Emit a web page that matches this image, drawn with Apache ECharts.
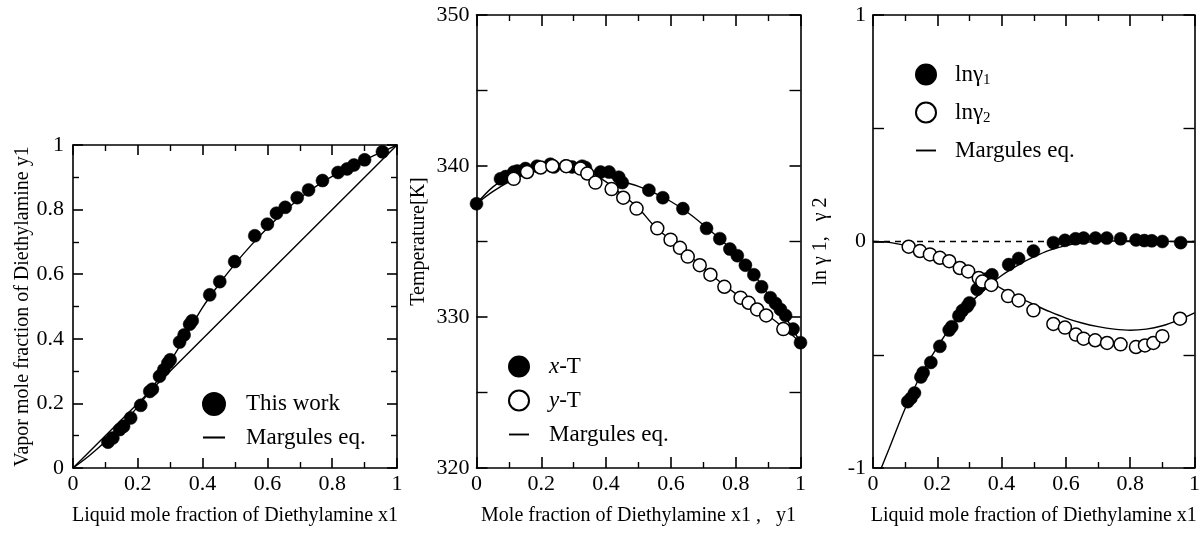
<!DOCTYPE html>
<html>
<head>
<meta charset="utf-8">
<script src="https://cdn.jsdelivr.net/npm/echarts@6/dist/echarts.min.js"></script>
<style>html,body{margin:0;padding:0;background:#fff}#c{width:1203px;height:535px}</style>
</head>
<body>
<div id="c"></div>
<script>
// ---------- Panel 1: x-y diagram ----------
const p1X = [0.108,0.123,0.144,0.156,0.178,0.209,0.237,0.245,0.267,0.280,0.293,0.300,0.329,0.343,0.360,0.368,0.422,0.453,0.499,0.561,0.600,0.628,0.655,0.692,0.727,0.770,0.818,0.846,0.867,0.900,0.955];
const p1Y = [0.080,0.093,0.119,0.129,0.155,0.194,0.237,0.244,0.284,0.304,0.325,0.335,0.390,0.412,0.445,0.456,0.536,0.577,0.639,0.719,0.755,0.789,0.807,0.837,0.861,0.890,0.915,0.926,0.938,0.954,0.979];
const curveX = [0,0.05,0.1,0.15,0.2,0.25,0.3,0.35,0.4,0.45,0.5,0.55,0.6,0.65,0.7,0.75,0.8,0.85,0.9,0.95,1];
const p1CurveY = [0,0.038,0.082,0.132,0.19,0.256,0.33,0.412,0.497,0.568,0.632,0.69,0.743,0.792,0.835,0.872,0.903,0.93,0.954,0.977,1];
const diagX = [0,1];
const diagY = [0,1];

// ---------- Panel 2: T-x-y diagram ----------
const p2LiqX = [0,0.074,0.09,0.115,0.126,0.151,0.187,0.228,0.239,0.275,0.295,0.326,0.336,0.383,0.409,0.439,0.45,0.532,0.575,0.637,0.71,0.751,0.782,0.805,0.830,0.856,0.88,0.907,0.923,0.938,0.954,0.977,1.0];
const p2LiqT = [337.5,339.15,339.3,339.6,339.67,339.83,339.99,340.12,339.94,340.0,339.94,339.99,339.9,339.6,339.6,339.26,338.9,338.4,337.9,337.18,335.87,335.19,334.5,334.06,333.43,332.8,332.0,331.28,330.9,330.5,330.1,329.2,328.3];
const p2VapY = [0.115,0.156,0.198,0.234,0.277,0.321,0.342,0.367,0.417,0.453,0.494,0.558,0.599,0.628,0.652,0.689,0.722,0.765,0.815,0.840,0.866,0.894,0.947];
const p2VapT = [339.15,339.6,339.9,340.0,339.99,339.83,339.5,338.9,338.47,337.9,337.18,335.87,335.12,334.58,334.0,333.43,332.8,332.0,331.28,330.94,330.5,330.1,329.2];
const bubbleT = [337.5,338.6,339.3,339.75,339.98,340.05,339.97,339.72,339.35,338.98,338.65,338.2,337.65,336.95,336.1,335.2,334.2,333.0,331.5,330.1,328.3];
const dewT = [337.5,338.3,338.95,339.45,339.8,339.98,339.95,339.6,338.95,338.1,337.2,336.0,335.1,334.2,333.25,332.35,331.55,330.85,330.1,329.25,328.3];

// ---------- Panel 3: activity coefficients ----------
const p3X1 = [0.108,0.118,0.129,0.149,0.156,0.180,0.208,0.237,0.245,0.267,0.278,0.293,0.300,0.324,0.334,0.355,0.370,0.422,0.453,0.499,0.561,0.597,0.630,0.655,0.692,0.727,0.770,0.818,0.844,0.867,0.900,0.957];
const p3G1 = [-0.707,-0.692,-0.669,-0.598,-0.579,-0.534,-0.463,-0.391,-0.376,-0.328,-0.305,-0.286,-0.271,-0.211,-0.195,-0.165,-0.147,-0.102,-0.075,-0.042,-0.005,0.005,0.012,0.015,0.015,0.015,0.012,0.007,0.004,0.003,0.0,-0.005];
const p3X2 = [0.111,0.146,0.177,0.208,0.237,0.270,0.296,0.329,0.340,0.368,0.420,0.453,0.499,0.561,0.597,0.631,0.655,0.691,0.728,0.770,0.818,0.846,0.872,0.900,0.955];
const p3G2 = [-0.023,-0.042,-0.057,-0.072,-0.087,-0.117,-0.132,-0.161,-0.177,-0.192,-0.241,-0.260,-0.304,-0.364,-0.380,-0.411,-0.429,-0.436,-0.448,-0.454,-0.466,-0.459,-0.448,-0.418,-0.341];
const g1Curve = [-1.09,-0.915,-0.737,-0.586,-0.466,-0.361,-0.275,-0.208,-0.15,-0.105,-0.068,-0.038,-0.018,-0.005,0.0,0.002,0.002,0.002,0.001,0.0,0.0];
const g2Curve = [0,-0.004,-0.018,-0.038,-0.063,-0.094,-0.128,-0.165,-0.208,-0.245,-0.278,-0.31,-0.338,-0.36,-0.376,-0.387,-0.392,-0.387,-0.372,-0.347,-0.315];
const zeroX = [0,1];
const zeroY = [0,0];

// ---------- Tick labels / names ----------
const fracTicks = {min:0, max:1, interval:0.2};
const tTicks = {min:320, max:350, interval:10};
const gTicks = {min:-1, max:1, interval:1};

const FONT = '"Liberation Serif", "Times New Roman", serif';
const zip = (a,b) => a.map((v,i) => [v, b[i]]);

function axis(type, grid, pos, t, opts) {
  const o = Object.assign({majorLen:10, minorLen:6, minorSplit:2, label:false, name:'', nameGap:0}, opts||{});
  return {
    type:'value', gridIndex:grid, position:pos,
    min:t.min, max:t.max, interval:t.interval,
    axisLine:{show:true, onZero:false, lineStyle:{color:'#000', width:1.6}},
    axisTick:{show:true, inside:true, length:o.majorLen, lineStyle:{color:'#000', width:1.6}},
    minorTick:{show:true, splitNumber:o.minorSplit, length:o.minorLen, lineStyle:{color:'#000', width:1.4}},
    splitLine:{show:false}, minorSplitLine:{show:false},
    axisLabel:{show:o.label, color:'#000', fontFamily:FONT, fontSize:22, margin:o.labelMargin||5,
               formatter: v => String(Math.round(v*10)/10)},
    name:o.name, nameLocation:'middle', nameGap:o.nameGap,
    nameTextStyle:{color:'#000', fontFamily:FONT, fontSize:20}
  };
}

const xAxes = [
  axis('x',0,'bottom',fracTicks,{label:true, name:'Liquid mole fraction of Diethylamine x1', nameGap:38}),
  axis('x',1,'bottom',fracTicks,{label:true, name:'Mole fraction of Diethylamine x1 ,   y1', nameGap:38, majorLen:11}),
  axis('x',2,'bottom',fracTicks,{label:true, name:'Liquid mole fraction of Diethylamine x1', nameGap:38, majorLen:11}),
  axis('x',0,'top',fracTicks),
  axis('x',1,'top',fracTicks,{majorLen:11}),
  axis('x',2,'top',fracTicks,{majorLen:11})
];
const yAxes = [
  axis('y',0,'left',{min:0,max:1,interval:0.2},{label:true, labelMargin:9, name:'Vapor mole fraction of Diethylamine y1', nameGap:40}),
  axis('y',1,'left',tTicks,{label:true, labelMargin:7, name:'Temperature[K]', nameGap:48, majorLen:11, minorLen:11}),
  axis('y',2,'left',gTicks,{label:true, labelMargin:7, name:'ln \u03b3 1,   \u03b3 2', nameGap:42, majorLen:11, minorLen:11}),
  axis('y',0,'right',{min:0,max:1,interval:0.2}),
  axis('y',1,'right',tTicks,{majorLen:11, minorLen:11}),
  axis('y',2,'right',gTicks,{majorLen:11, minorLen:11})
];

function lineS(name, xi, x, y, dashed) {
  return {type:'line', name:name, xAxisIndex:xi, yAxisIndex:xi, data:zip(x,y), smooth:dashed?false:0.35,
          showSymbol:false, symbol:'none', z:2, silent:true, color:'#000',
          itemStyle:{color:'#000'},
          lineStyle:{color:'#000', width:1.4, type: dashed ? [6,5] : 'solid'}};
}
function dotS(name, xi, x, y, open) {
  return {type:'scatter', name:name, xAxisIndex:xi, yAxisIndex:xi, data:zip(x,y), symbol:'circle', symbolSize:13, z: open?4:3,
          color: open ? '#fff' : '#000',
          itemStyle: open ? {color:'#fff', borderColor:'#000', borderWidth:1.5, opacity:1}
                          : {color:'#000', borderColor:'#000', borderWidth:0.5, opacity:1}};
}

const lineIcon = 'path://M0,0H17V1.6H0Z';
const legendBase = {orient:'vertical', selectedMode:false, itemWidth:20, itemHeight:20, itemGap:12,
  textStyle:{color:'#000', fontFamily:FONT, fontSize:23, padding:[0,0,0,15],
    rich:{
      n:{fontFamily:FONT, fontSize:23, color:'#000'},
      i:{fontFamily:FONT, fontSize:23, fontStyle:'italic', color:'#000'},
      s:{fontFamily:FONT, fontSize:15, color:'#000', verticalAlign:'bottom', padding:[12,0,0,0]}
    }},
  formatter: function(name){
    if (name === 'x-T') return '{i|x}{n|-T}';
    if (name === 'y-T') return '{i|y}{n|-T}';
    if (name === 'ln\u03b31') return '{n|ln\u03b3}{s|1}';
    if (name === 'ln\u03b32') return '{n|ln\u03b3}{s|2}';
    return '{n|' + name + '}';
  }};
const margItem = {name:'Margules eq.', icon:lineIcon, itemStyle:{color:'#000', borderWidth:0}};

const option = {
  backgroundColor:'#fff',
  animation:false,
  grid:[
    {left:73, top:145, width:324, height:323},
    {left:476.5, top:15, width:324, height:453},
    {left:873, top:15, width:325, height:453}
  ],
  xAxis:xAxes,
  yAxis:yAxes,
  legend:[
    Object.assign({}, legendBase, {data:[{name:'This work', icon:'circle'}, margItem], left:197, top:387, itemWidth:22, itemHeight:22, itemGap:10,
      textStyle:Object.assign({}, legendBase.textStyle, {padding:[0,0,0,16]})}),
    Object.assign({}, legendBase, {data:[{name:'x-T', icon:'circle'}, {name:'y-T', icon:'circle'}, margItem], left:503, top:350, itemGap:11}),
    Object.assign({}, legendBase, {data:[{name:'ln\u03b31', icon:'circle'}, {name:'ln\u03b32', icon:'circle'}, margItem], left:910, top:58, itemGap:13,
      textStyle:Object.assign({}, legendBase.textStyle, {padding:[0,0,0,14]})})
  ],
  series:[
    lineS('diag',0,diagX,diagY,false),
    lineS('Margules eq.',0,curveX,p1CurveY,false),
    dotS('This work',0,p1X,p1Y,false),

    lineS('Margules eq.',1,curveX,bubbleT,false),
    lineS('Margules eq.',1,curveX,dewT,false),
    dotS('x-T',1,p2LiqX,p2LiqT,false),
    dotS('y-T',1,p2VapY,p2VapT,true),

    lineS('zero',2,zeroX,zeroY,true),
    lineS('Margules eq.',2,curveX,g1Curve,false),
    lineS('Margules eq.',2,curveX,g2Curve,false),
    dotS('ln\u03b31',2,p3X1,p3G1,false),
    dotS('ln\u03b32',2,p3X2,p3G2,true)
  ]
};
const chart = echarts.init(document.getElementById('c'), null, {renderer:'canvas'});
chart.setOption(option);
</script>
</body>
</html>
